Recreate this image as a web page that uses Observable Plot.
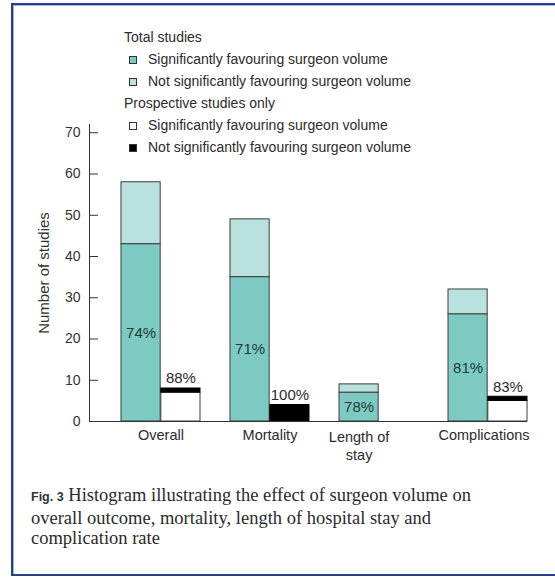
<!DOCTYPE html>
<html>
<head>
<meta charset="utf-8">
<script src="https://cdn.jsdelivr.net/npm/d3@7"></script>
<script src="https://cdn.jsdelivr.net/npm/@observablehq/plot@0.6"></script>
<style>
  html, body { margin: 0; padding: 0; background: #fff; overflow: hidden; }
  #page { width: 555px; height: 578px; position: relative; overflow: hidden; font-family: "Liberation Sans", Arial, sans-serif; }
  #frame { position: absolute; left: 11px; top: 3px; width: 620px; height: 569px; border: 2px solid #24408a; border-right: none; box-shadow: inset 1px 1px 0 #9fb2dc; }
  #chart { position: absolute; left: 0; top: 0; }
  #legend { position: absolute; left: 124px; top: 26px; font-size: 14px; color: #2b2b2b; line-height: 22px; }
  #legend .item { padding-left: 24px; position: relative; }
  #legend .sw { position: absolute; left: 5px; top: 8px; width: 6px; height: 6px; border: 1px solid #333; }
  #caption { position: absolute; left: 31px; top: 485px; font-family: "Liberation Serif", "DejaVu Serif", serif; font-size: 18.5px; line-height: 20.5px; color: #2a2a2a; white-space: nowrap; }
  #caption b { font-family: "Liberation Sans", Arial, sans-serif; font-size: 12.5px; font-weight: bold; color: #333; }
</style>
</head>
<body>
<div id="page">
<div id="frame"></div>
<div id="chart"></div>
<div id="legend"></div>
<div id="caption"><b>Fig. 3</b> Histogram illustrating the effect of surgeon volume on<br>overall outcome, mortality, length of hospital stay and<br>complication rate</div>
</div>
<script>
const categories = ["Overall", "Mortality", "Length of stay", "Complications"];
const categoryLabels = ["Overall", "Mortality", "Length of\nstay", "Complications"];
const totalSignificant = [43, 35, 7, 26];
const totalAll = [58, 49, 9, 32];
const totalPercent = ["74%", "71%", "78%", "81%"];
const prospectiveSignificant = [7, 0, 0, 5];
const prospectiveAll = [8, 4, 0, 6];
const prospectivePercent = ["88%", "100%", "", "83%"];
const yTicks = [0, 10, 20, 30, 40, 50, 60, 70];

const legendGroups = [
  {title: "Total studies", items: [
    {label: "Significantly favouring surgeon volume", fill: "#7ccac2"},
    {label: "Not significantly favouring surgeon volume", fill: "#b9e1de"}]},
  {title: "Prospective studies only", items: [
    {label: "Significantly favouring surgeon volume", fill: "#ffffff"},
    {label: "Not significantly favouring surgeon volume", fill: "#000000"}]}
];

const colDark = "#7ccac2", colLight = "#b9e1de";

const rows = categories.map((c, i) => ({
  cat: c, label: categoryLabels[i],
  sig: totalSignificant[i], all: totalAll[i], pct: totalPercent[i],
  psig: prospectiveSignificant[i], pall: prospectiveAll[i], ppct: prospectivePercent[i]
}));
const pros = rows.filter(d => d.pall > 0);

const W = 555, ML = 89, MR = 28;
const bw = (W - ML - MR) / 4 * (1 - 0.2727);
const half = bw / 2;

const chart = Plot.plot({
  width: W, height: 470,
  marginLeft: ML, marginRight: MR, marginTop: 124, marginBottom: 49,
  style: {fontFamily: "'Liberation Sans', Arial, sans-serif", fontSize: "14px", color: "#333", background: "transparent", overflow: "visible"},
  x: {domain: categories, paddingInner: 0.2727, paddingOuter: 0.1364, align: 1, axis: null},
  y: {domain: [0, 72], axis: null},
  marks: [
    Plot.barY(rows, {x: "cat", y1: 0, y2: "sig", fill: colDark, stroke: "#3c3c3c", strokeWidth: 1, insetRight: half}),
    Plot.barY(rows, {x: "cat", y1: "sig", y2: "all", fill: colLight, stroke: "#3c3c3c", strokeWidth: 1, insetRight: half}),
    Plot.barY(pros.filter(d => d.psig > 0), {x: "cat", y1: 0, y2: "psig", fill: "#fff", stroke: "#3c3c3c", strokeWidth: 1, insetLeft: half}),
    Plot.barY(pros, {x: "cat", y1: "psig", y2: "pall", fill: "#000", stroke: "#000", strokeWidth: 1, insetLeft: half}),
    Plot.text(rows, {x: "cat", y: d => d.sig / 2, text: "pct", dx: -half / 2, fill: "#1e3a3a", fontSize: 15}),
    Plot.text(pros, {x: "cat", y: "pall", text: "ppct", dx: half / 2, dy: -10, fill: "#2b2b2b", fontSize: 15}),
    Plot.text(rows.filter(d => d.cat === "Overall" || d.cat === "Mortality"), {x: "cat", text: "label", frameAnchor: "bottom", lineAnchor: "top", dy: 8, fill: "#2b2b2b", fontSize: 14.5}),
    Plot.text(rows.filter(d => d.cat === "Complications"), {x: "cat", text: "label", frameAnchor: "bottom", lineAnchor: "top", dy: 8, dx: -4, fill: "#2b2b2b", fontSize: 14.5}),
    Plot.text(rows.filter(d => d.cat === "Length of stay"), {x: "cat", text: "label", frameAnchor: "bottom", lineAnchor: "top", dy: 8, dx: -half / 2, fill: "#2b2b2b", fontSize: 14.5, lineHeight: 1.25}),
    Plot.axisY({ticks: yTicks, tickSize: 0, tickPadding: 9, label: "Number of studies", labelAnchor: "center", labelArrow: "none", labelOffset: 51, fontSize: 14, color: "#333"}),
    Plot.ruleY(yTicks, {y: d => d, insetRight: W - ML - MR - 9, stroke: "#333"}),
    Plot.ruleY([0], {stroke: "#333"}),
    Plot.frame({anchor: "left", stroke: "#333"})
  ]
});
chart.querySelectorAll("g[aria-label='y-axis label'] text, g[aria-label='y-axis label']").forEach(e => e.setAttribute("font-size", "15"));
document.getElementById("chart").appendChild(chart);

const legend = document.getElementById("legend");
for (const g of legendGroups) {
  const t = document.createElement("div");
  t.textContent = g.title;
  legend.appendChild(t);
  for (const it of g.items) {
    const d = document.createElement("div");
    d.className = "item";
    const sw = document.createElement("span");
    sw.className = "sw";
    sw.style.background = it.fill;
    d.appendChild(sw);
    d.appendChild(document.createTextNode(it.label));
    legend.appendChild(d);
  }
}
</script>
</body>
</html>
